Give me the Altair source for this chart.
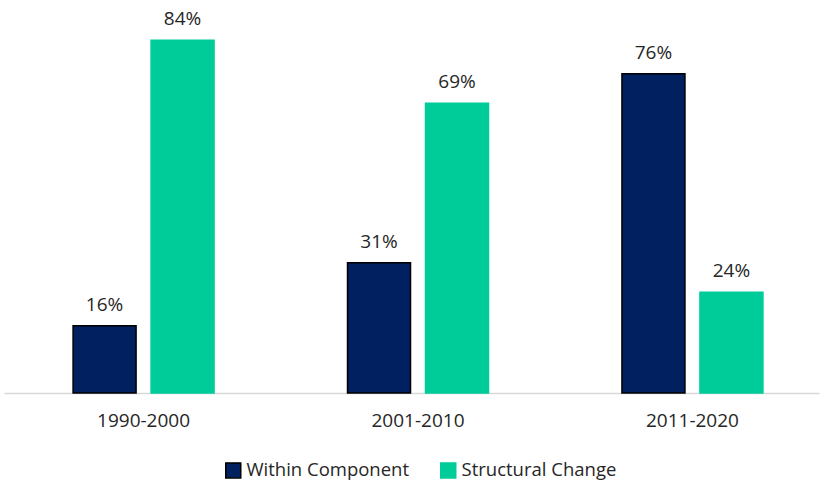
import altair as alt
import pandas as pd

periods = ["1990-2000", "2001-2010", "2011-2020"]
series = ["Within Component", "Structural Change"]
within = [16, 31, 76]
structural = [84, 69, 24]
colors = ["#002060", "#00CC99"]
strokes = ["#000000", "#00CC99"]

rows = []
for i, p in enumerate(periods):
    rows.append({"period": p, "series": series[0], "value": within[i], "label": f"{within[i]}%"})
    rows.append({"period": p, "series": series[1], "value": structural[i], "label": f"{structural[i]}%"})
df = pd.DataFrame(rows)

FONT = "Open Sans"
TXT = "#262626"

x = alt.X("period:N", sort=periods, title=None,
          scale=alt.Scale(paddingInner=0.4863, paddingOuter=0.228, align=0.552),
          axis=alt.Axis(labelAngle=0, labelFont=FONT, labelFontSize=19, labelColor=TXT,
                        ticks=False, domainColor="#D9D9D9", domainWidth=1.5,
                        labelPadding=18))
xo = alt.XOffset("series:N", sort=series,
                 scale=alt.Scale(paddingInner=0.1923, paddingOuter=0))
y = alt.Y("value:Q", scale=alt.Scale(domain=[0, 90]), axis=None)

bars = alt.Chart(df).mark_bar(strokeWidth=1.5).encode(
    x=x, xOffset=xo, y=y,
    color=alt.Color("series:N", sort=series,
                    scale=alt.Scale(domain=series, range=colors),
                    legend=alt.Legend(title=None, orient="none", direction="horizontal",
                                      legendX=220, legendY=446, padding=0,
                                      symbolType="square", symbolSize=225,
                                      symbolStrokeWidth=1.5, symbolStrokeColor="#000000",
                                      labelFont=FONT, labelFontSize=18.5, labelColor=TXT,
                                      labelOffset=4, columnPadding=27, labelLimit=400)),
    stroke=alt.Stroke("series:N", sort=series,
                      scale=alt.Scale(domain=series, range=strokes), legend=None),
)

labels = alt.Chart(df).mark_text(font=FONT, fontSize=19, color=TXT,
                                 baseline="alphabetic", dy=-15).encode(
    x=x, xOffset=xo, y=y, text="label:N")

chart = alt.layer(bars, labels).properties(
    width=815, height=378,
    padding={"left": 4, "top": 15, "right": 2, "bottom": 90},
    autosize=alt.AutoSizeParams(type="none"),
    background="white",
).configure_view(stroke=None)

chart.save("out.html", embed_options={"renderer": "svg", "actions": False})
